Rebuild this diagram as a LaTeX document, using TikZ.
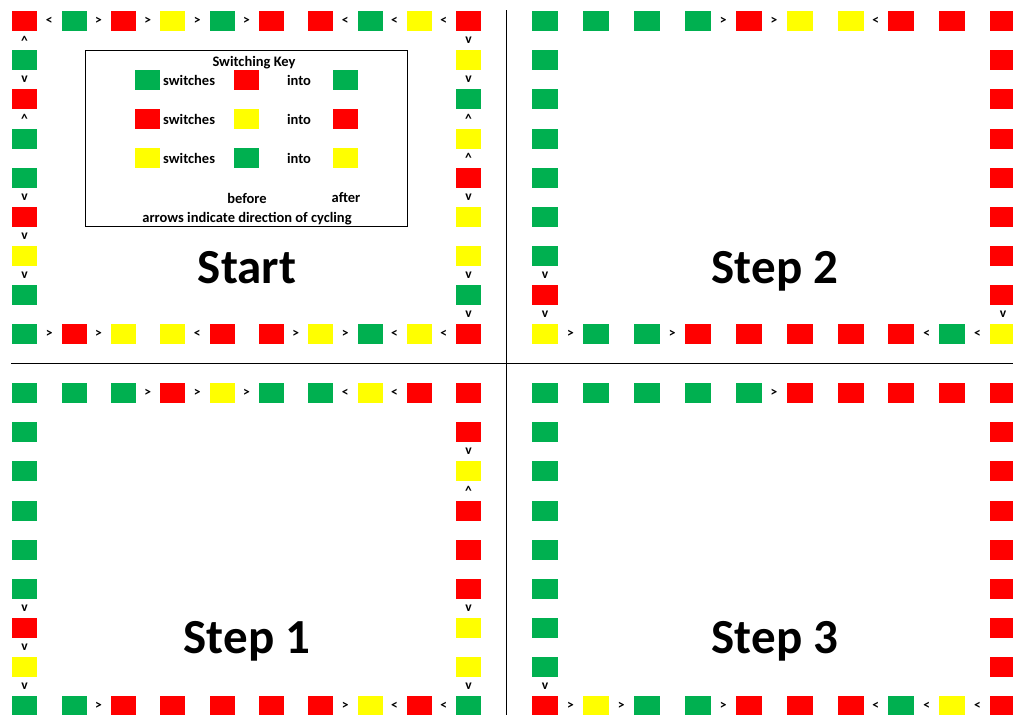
\documentclass[tikz,border=0pt]{standalone}
\usepackage{fontspec}
\setmainfont{Carlito}
\definecolor{cg}{HTML}{00B050}
\definecolor{cr}{HTML}{FF0000}
\definecolor{cy}{HTML}{FFFF00}
\newcommand\up{\textasciicircum}
% horizontal row: prefix, x0, dx, ytop, colours, symbols
\newcommand\hrow[6]{%
  \foreach \c [count=\i from 0] in {#5}{
    \node[cell, fill=\c, minimum width=\sqw pt] (#1\i) at ({#2+\i*#3}, #4) {};
  }
  \foreach \s [count=\i from 0] in {#6}{
    \node[arrowsym] (#1s\i) at ({#2+\i*#3+\sqw/2+#3/2}, {#4+10}) {\s};
  }
}
% vertical column: prefix, x, y0, dy, colours (rows 1..7), symbols (gaps)
\newcommand\vcol[6]{%
  \foreach \c [count=\i from 1] in {#5}{
    \node[cell, fill=\c, minimum width=\sqw pt] (#1\i) at (#2, {#3+\i*#4}) {};
  }
  \foreach \s [count=\i from 0] in {#6}{
    \node[arrowsym] (#1s\i) at ({#2+\sqw/2}, {#3+\i*#4+20+(#4-20)/2}) {\s};
  }
}
\begin{document}
\begin{tikzpicture}[x=1pt,y=-1pt,
  cell/.style={draw=none, inner sep=0pt, minimum height=20pt, anchor=north west},
  arrowsym/.style={inner sep=0pt, font=\bfseries\fontsize{13.5}{13.5}\selectfont},
  title/.style={font=\bfseries\fontsize{49}{49}\selectfont, inner sep=0pt, anchor=base},
  keytext/.style={font=\bfseries\fontsize{14.5}{15}\selectfont, inner sep=0pt},
  divider/.style={line width=1pt}]
\useasboundingbox (0,0) rectangle (1013,715);
% dividers
\coordinate (h1) at (11,363); \coordinate (h2) at (1013,363);
\coordinate (v1) at (506,10); \coordinate (v2) at (506,715);
\draw[divider] (h1) -- (h2);
\draw[divider] (v1) -- (v2);
% ---------- Start ----------
\def\sqw{25}
\hrow{a}{12}{49.33}{11}{cr,cg,cr,cy,cg,cr,cr,cg,cy,cr}{<,>,>,>,>,{},<,<,<}
\hrow{b}{12}{49.33}{324}{cg,cr,cy,cy,cr,cr,cy,cg,cy,cr}{>,>,{},<,{},>,>,<,<}
\vcol{c}{12}{11}{39.125}{cg,cr,cg,cg,cr,cy,cg}{\up,v,\up,{},v,v,v}
\vcol{d}{456}{11}{39.125}{cy,cg,cy,cr,cy,cy,cg}{v,v,\up,\up,v,{},v,v}
% ---------- Step 2 ----------
\def\sqw{26}
\hrow{e}{532}{50.89}{11}{cg,cg,cg,cg,cr,cy,cy,cr,cr,cr}{{},{},{},>,>,{},<}
\hrow{f}{532}{50.89}{324}{cy,cg,cg,cr,cr,cr,cr,cr,cg,cy}{>,{},>,{},{},{},{},<,<}
\vcol{g}{532}{11}{39.125}{cg,cg,cg,cg,cg,cg,cr}{{},{},{},{},{},{},v,v}
\vcol{h}{990}{11}{39.125}{cr,cr,cr,cr,cr,cr,cr}{{},{},{},{},{},{},{},v}
% ---------- Step 1 ----------
\def\sqw{25}
\hrow{i}{12}{49.33}{383}{cg,cg,cg,cr,cy,cg,cg,cy,cr,cr}{{},{},>,>,>,{},<,<}
\hrow{j}{12}{49.33}{696}{cg,cg,cr,cr,cr,cr,cr,cy,cr,cg}{{},>,{},{},{},{},>,<,<}
\vcol{k}{12}{383}{39.125}{cg,cg,cg,cg,cg,cr,cy}{{},{},{},{},{},v,v,v}
\vcol{l}{456}{383}{39.125}{cr,cy,cr,cr,cr,cy,cy}{{},v,\up,{},{},v,{},v}
% ---------- Step 3 ----------
\def\sqw{26}
\hrow{m}{532}{50.89}{383}{cg,cg,cg,cg,cg,cr,cr,cr,cr,cr}{{},{},{},{},>}
\hrow{n}{532}{50.89}{696}{cr,cy,cg,cg,cr,cr,cr,cg,cy,cr}{>,>,{},>,{},{},<,<,<}
\vcol{o}{532}{383}{39.125}{cg,cg,cg,cg,cg,cg,cg}{{},{},{},{},{},{},{},v}
\vcol{p}{990}{383}{39.125}{cr,cr,cr,cr,cr,cr,cr}{{}}
% ---------- titles ----------
\node[title] (t1) at (247,283.5) {Start};
\node[title] (t2) at (775,283.5) {Step 2};
\node[title] (t3) at (247,653.5) {Step 1};
\node[title] (t4) at (775,653.5) {Step 3};
% ---------- key ----------
\node[draw, line width=0.8pt, inner sep=0pt, minimum width=322pt, minimum height=176pt, anchor=north west] (key) at (85,50) {};
\node[keytext] (kt) at (254,62.5) {Switching Key};
\foreach \yt/\ca/\cb/\cc [count=\r] in {70/cg/cr/cg, 109/cr/cy/cr, 148/cy/cg/cy}{
  \node[cell, fill=\ca, minimum width=25pt] (kb\r) at (135,\yt) {};
  \node[cell, fill=\cb, minimum width=25pt] (kf\r) at (234,\yt) {};
  \node[cell, fill=\cc, minimum width=25pt] (ka\r) at (333,\yt) {};
  \node[keytext, anchor=west] (ks\r) at (163,{\yt+10}) {switches};
  \node[keytext] (ki\r) at (299,{\yt+10}) {into};
}
\node[keytext] (kbefore) at (247,198) {before};
\node[keytext] (kafter) at (346,198) {after};
\node[keytext] (karrows) at (247,218.5) {arrows indicate direction of cycling};
\end{tikzpicture}
\end{document}
